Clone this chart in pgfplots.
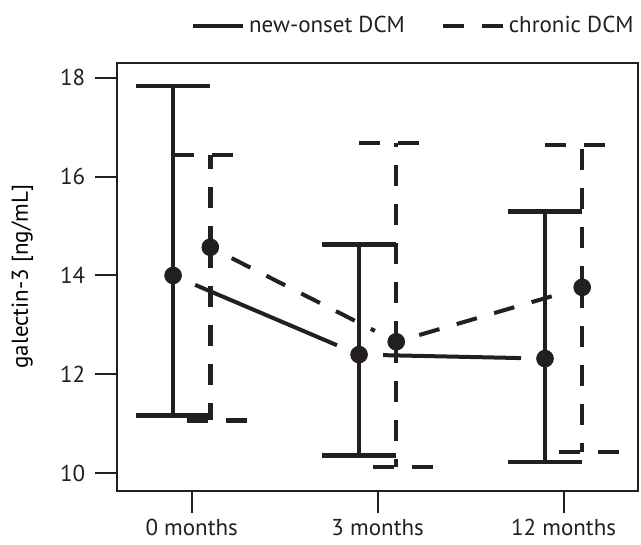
\documentclass[border=0pt]{standalone}
\usepackage{fontspec}
\setmainfont{PT Sans}
\usepackage{pgfplots}
\pgfplotsset{compat=1.18}
\definecolor{ink}{RGB}{35,31,32}
\begin{document}
\fontsize{11.5pt}{13pt}\selectfont
\begin{tikzpicture}
\begin{axis}[
  scale only axis, width=260.35pt, height=214pt,
  xmin=0.6, xmax=3.4, ymin=9.65, ymax=18.3,
  axis line style={ink, line width=1pt},
  xtick={1,2,3}, xticklabels={0 months,3 months,12 months},
  ytick={10,12,14,16,18},
  tick style={ink, line width=1pt},
  tick align=outside, tick pos=left,
  major tick length=11pt,
  /pgf/number format/assume math mode=true,
  ticklabel style={font=\fontsize{11.5pt}{13pt}\selectfont, text=ink},
  xticklabel style={inner sep=0pt, yshift=-3pt},
  yticklabel style={xshift=-1pt},
  label style={font=\fontsize{10.1pt}{12pt}\selectfont, text=ink},
  ylabel={galectin-3 [ng/mL]},
  every axis y label/.style={at={(axis description cs:-0.1824,0.5)}, rotate=90, anchor=center},
  legend style={at={(axis description cs:1,1)}, anchor=south east, yshift=11pt, draw=none, fill=none,
    inner sep=0pt, font=\fontsize{11.5pt}{13pt}\selectfont, text=ink,
    /tikz/every even column/.append style={column sep=16pt},
    legend columns=2},
  legend cell align=left,
]
\addlegendimage{legend image code/.code={\draw[ink, line width=2pt] (0pt,0pt) -- (25pt,0pt);}}
\addlegendentry{new-onset DCM}
\addlegendimage{legend image code/.code={\draw[ink, line width=2pt, dash pattern=on 10.5pt off 9pt] (0pt,0pt) -- (30pt,0pt);}}
\addlegendentry[xshift=-6pt]{chronic DCM}

% connecting lines (with gaps at the points)
\addplot[ink, line width=2pt, shorten >=12pt, shorten <=12pt, forget plot] coordinates {(0.9,14.00) (1.9,12.40)};
\addplot[ink, line width=2pt, shorten >=12pt, shorten <=12pt, forget plot] coordinates {(1.9,12.40) (2.9,12.32)};
\addplot[ink, line width=2pt, dash pattern=on 10.5pt off 9pt, shorten >=12pt, shorten <=12pt, forget plot] coordinates {(1.1,14.57) (2.1,12.66)};
\addplot[ink, line width=2pt, dash pattern=on 10.5pt off 9pt, shorten >=12pt, shorten <=12pt, forget plot] coordinates {(2.1,12.66) (3.1,13.76)};

% new-onset DCM: mean with error bars
\addplot[ink, only marks, mark=*, mark size=4.2pt, mark options={fill=ink, solid}, forget plot,
  error bars/.cd, y dir=both, y explicit,
  error bar style={ink, line width=2.25pt, solid},
  error mark=|, error mark options={ink, line width=2.25pt, mark size=18.5pt, solid}]
coordinates {
  (0.9,14.00) += (0,3.83) -= (0,2.83)
  (1.9,12.40) += (0,2.23) -= (0,2.04)
  (2.9,12.32) += (0,2.97) -= (0,2.09)
};
% chronic DCM
\addplot[ink, only marks, mark=*, mark size=4.2pt, mark options={fill=ink, solid}, forget plot,
  error bars/.cd, y dir=both, y explicit,
  error bar style={ink, line width=2.25pt, dash pattern=on 10.5pt off 9pt},
  error mark=|, error mark options={ink, line width=2.25pt, mark size=18.5pt, dash pattern=on 10.5pt off 9pt}]
coordinates {
  (1.1,14.57) += (0,1.86) -= (0,3.50)
  (2.1,12.66) += (0,4.02) -= (0,2.53)
  (3.1,13.76) += (0,2.88) -= (0,3.33)
};
\end{axis}
\pgfresetboundingbox
\useasboundingbox ([shift={(-58.65pt,-27pt)}]current axis.south west) rectangle ([shift={(1.5pt,31.35pt)}]current axis.north east);
\end{tikzpicture}
\end{document}
